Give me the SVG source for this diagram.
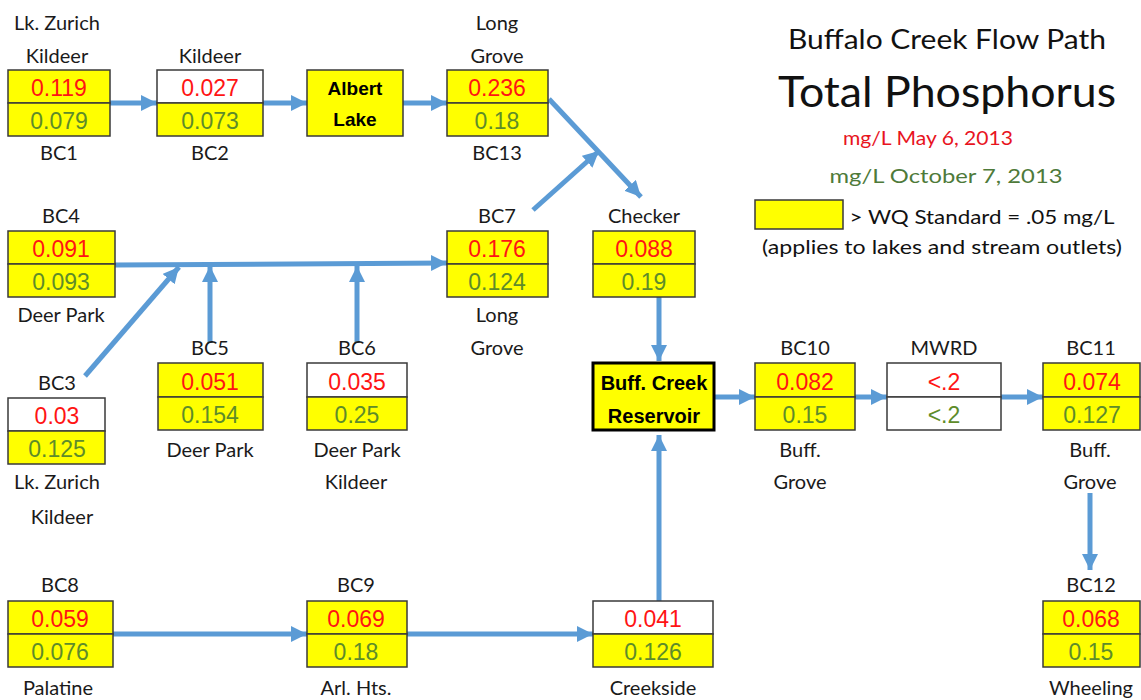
<svg xmlns="http://www.w3.org/2000/svg" width="1141" height="700" viewBox="0 0 1141 700">
<style>
.lbl{font-family:Lato,"Liberation Sans",sans-serif;font-size:20px;fill:#1a1a1a;text-anchor:middle}
.r{font-family:"Liberation Sans",Arial,sans-serif;font-size:23px;fill:#FF1414;text-anchor:middle}
.g{font-family:"Liberation Sans",Arial,sans-serif;font-size:23px;fill:#5E8C2A;text-anchor:middle}
.bd{font-family:"Liberation Sans",Arial,sans-serif;font-size:19px;font-weight:bold;fill:#000;text-anchor:middle}
.y{fill:#FFFF00;stroke:#3a3a3a;stroke-width:1.5}
.w{fill:#FFFFFF;stroke:#3a3a3a;stroke-width:1.5}
.conn line{stroke:#5B9BD5;stroke-width:5;marker-end:url(#ah)}
.hd{font-family:Lato,"Liberation Sans",sans-serif;fill:#111;text-anchor:middle}
</style>
<defs>
<marker id="ah" markerUnits="userSpaceOnUse" markerWidth="18" markerHeight="18" refX="16" refY="8" orient="auto">
<path d="M0,0 L16,8 L0,16 z" fill="#5B9BD5"/>
</marker>
</defs>
<rect width="1141" height="700" fill="#fff"/>

<g id="header">
<text class="hd" x="947" y="49" font-size="26" textLength="318" lengthAdjust="spacingAndGlyphs">Buffalo Creek Flow Path</text>
<text class="hd" x="947" y="107" font-size="42" textLength="338" lengthAdjust="spacingAndGlyphs">Total Phosphorus</text>
<text class="hd" x="928" y="145" font-size="20" fill="#E8141E" style="fill:#E8141E" textLength="170" lengthAdjust="spacingAndGlyphs">mg/L May 6, 2013</text>
<text class="hd" x="946" y="183" font-size="20" style="fill:#4E7A3A" textLength="233" lengthAdjust="spacingAndGlyphs">mg/L October 7, 2013</text>
</g>
<g id="legend">
<rect class="y" x="755" y="200" width="88" height="29"/>
<text class="hd" x="982" y="224" font-size="20" textLength="265" lengthAdjust="spacingAndGlyphs">&gt; WQ Standard = .05 mg/L</text>
<text class="hd" x="942" y="254" font-size="20" textLength="360" lengthAdjust="spacingAndGlyphs">(applies to lakes and stream outlets)</text>
</g>

<g class="conn" id="connectors">
<line x1="110" y1="103" x2="157" y2="103"/>
<line x1="263" y1="103" x2="307" y2="103"/>
<line x1="403" y1="103" x2="447" y2="103"/>
<line x1="549" y1="99" x2="641" y2="197"/>
<line x1="533" y1="210" x2="599" y2="151"/>
<line x1="115" y1="265" x2="447" y2="263"/>
<line x1="85" y1="376" x2="179" y2="267"/>
<line x1="210" y1="343" x2="210" y2="266"/>
<line x1="357" y1="343" x2="357" y2="266"/>
<line x1="659" y1="297" x2="659" y2="361"/>
<line x1="715" y1="397" x2="755" y2="397"/>
<line x1="855" y1="397" x2="887" y2="397"/>
<line x1="1001" y1="397" x2="1043" y2="397"/>
<line x1="1090" y1="493" x2="1090" y2="570"/>
<line x1="113" y1="634" x2="307" y2="634"/>
<line x1="407" y1="634" x2="593" y2="634"/>
<line x1="659" y1="601" x2="659" y2="435"/>
</g>

<g id="BC1">
<text class="lbl" x="57" y="30">Lk. Zurich</text>
<text class="lbl" x="57" y="63">Kildeer</text>
<rect class="y" x="8" y="70" width="102" height="33"/><rect class="y" x="8" y="103" width="102" height="33"/>
<text class="r" x="59" y="96">0.119</text><text class="g" x="59" y="129">0.079</text>
<text class="lbl" x="59" y="160">BC1</text>
</g>
<g id="BC2">
<text class="lbl" x="210" y="63">Kildeer</text>
<rect class="w" x="157" y="70" width="106" height="33"/><rect class="y" x="157" y="103" width="106" height="33"/>
<text class="r" x="210" y="96">0.027</text><text class="g" x="210" y="129">0.073</text>
<text class="lbl" x="210" y="160">BC2</text>
</g>
<g id="AlbertLake">
<rect class="y" x="307" y="70" width="96" height="66"/>
<text class="bd" x="355" y="95">Albert</text><text class="bd" x="355" y="126">Lake</text>
</g>
<g id="BC13">
<text class="lbl" x="497" y="30">Long</text>
<text class="lbl" x="497" y="63">Grove</text>
<rect class="y" x="447" y="70" width="101" height="33"/><rect class="y" x="447" y="103" width="101" height="33"/>
<text class="r" x="497" y="96">0.236</text><text class="g" x="497" y="129">0.18</text>
<text class="lbl" x="497" y="160">BC13</text>
</g>
<g id="BC4">
<text class="lbl" x="61" y="223">BC4</text>
<rect class="y" x="8" y="231" width="107" height="33"/><rect class="y" x="8" y="264" width="107" height="33"/>
<text class="r" x="61" y="257">0.091</text><text class="g" x="61" y="290">0.093</text>
<text class="lbl" x="61" y="322">Deer Park</text>
</g>
<g id="BC7">
<text class="lbl" x="497" y="223">BC7</text>
<rect class="y" x="447" y="231" width="101" height="33"/><rect class="y" x="447" y="264" width="101" height="33"/>
<text class="r" x="497" y="257">0.176</text><text class="g" x="497" y="290">0.124</text>
<text class="lbl" x="497" y="322">Long</text><text class="lbl" x="497" y="355">Grove</text>
</g>
<g id="Checker">
<text class="lbl" x="644" y="223">Checker</text>
<rect class="y" x="593" y="231" width="102" height="33"/><rect class="y" x="593" y="264" width="102" height="33"/>
<text class="r" x="644" y="257">0.088</text><text class="g" x="644" y="290">0.19</text>
</g>
<g id="BC3">
<text class="lbl" x="57" y="390">BC3</text>
<rect class="w" x="8" y="398" width="97" height="33"/><rect class="y" x="8" y="431" width="97" height="33"/>
<text class="r" x="57" y="424">0.03</text><text class="g" x="57" y="457">0.125</text>
<text class="lbl" x="57" y="489">Lk. Zurich</text><text class="lbl" x="62" y="524">Kildeer</text>
</g>
<g id="BC5">
<text class="lbl" x="210" y="355">BC5</text>
<rect class="y" x="158" y="363" width="105" height="34"/><rect class="y" x="158" y="397" width="105" height="33"/>
<text class="r" x="210" y="390">0.051</text><text class="g" x="210" y="423">0.154</text>
<text class="lbl" x="210" y="457">Deer Park</text>
</g>
<g id="BC6">
<text class="lbl" x="357" y="355">BC6</text>
<rect class="w" x="307" y="363" width="100" height="34"/><rect class="y" x="307" y="397" width="100" height="33"/>
<text class="r" x="357" y="390">0.035</text><text class="g" x="357" y="423">0.25</text>
<text class="lbl" x="357" y="457">Deer Park</text><text class="lbl" x="356" y="489">Kildeer</text>
</g>
<g id="Reservoir">
<rect x="593" y="363" width="121" height="67" fill="#FFFF00" stroke="#000" stroke-width="3"/>
<text class="bd" x="654" y="390" font-size="20" style="font-size:20px">Buff. Creek</text>
<text class="bd" x="654" y="423" style="font-size:20px">Reservoir</text>
</g>
<g id="BC10">
<text class="lbl" x="805" y="355">BC10</text>
<rect class="y" x="755" y="363" width="100" height="34"/><rect class="y" x="755" y="397" width="100" height="33"/>
<text class="r" x="805" y="390">0.082</text><text class="g" x="805" y="423">0.15</text>
<text class="lbl" x="800" y="457">Buff.</text><text class="lbl" x="800" y="489">Grove</text>
</g>
<g id="MWRD">
<text class="lbl" x="944" y="355">MWRD</text>
<rect class="w" x="887" y="363" width="114" height="34"/><rect class="w" x="887" y="397" width="114" height="33"/>
<text class="r" x="944" y="390">&lt;.2</text><text class="g" x="944" y="423">&lt;.2</text>
</g>
<g id="BC11">
<text class="lbl" x="1091" y="355">BC11</text>
<rect class="y" x="1043" y="363" width="97" height="34"/><rect class="y" x="1043" y="397" width="97" height="33"/>
<text class="r" x="1092" y="390">0.074</text><text class="g" x="1092" y="423">0.127</text>
<text class="lbl" x="1090" y="457">Buff.</text><text class="lbl" x="1090" y="489">Grove</text>
</g>
<g id="BC8">
<text class="lbl" x="60" y="592">BC8</text>
<rect class="y" x="8" y="601" width="105" height="33"/><rect class="y" x="8" y="634" width="105" height="33"/>
<text class="r" x="60" y="627">0.059</text><text class="g" x="60" y="660">0.076</text>
<text class="lbl" x="58" y="695">Palatine</text>
</g>
<g id="BC9">
<text class="lbl" x="356" y="592">BC9</text>
<rect class="y" x="307" y="601" width="100" height="33"/><rect class="y" x="307" y="634" width="100" height="33"/>
<text class="r" x="356" y="627">0.069</text><text class="g" x="356" y="660">0.18</text>
<text class="lbl" x="356" y="695">Arl. Hts.</text>
</g>
<g id="Creekside">
<rect class="w" x="593" y="601" width="120" height="33"/><rect class="y" x="593" y="634" width="120" height="33"/>
<text class="r" x="653" y="627">0.041</text><text class="g" x="653" y="660">0.126</text>
<text class="lbl" x="653" y="695">Creekside</text>
</g>
<g id="BC12">
<text class="lbl" x="1091" y="592">BC12</text>
<rect class="y" x="1043" y="601" width="97" height="33"/><rect class="y" x="1043" y="634" width="97" height="33"/>
<text class="r" x="1091" y="627">0.068</text><text class="g" x="1091" y="660">0.15</text>
<text class="lbl" x="1091" y="695">Wheeling</text>
</g>
</svg>
